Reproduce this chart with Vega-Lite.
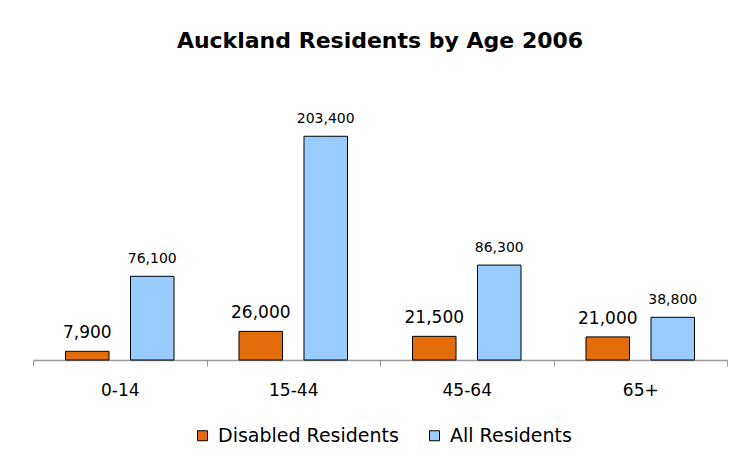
{
  "$schema": "https://vega.github.io/schema/vega-lite/v6.json",
  "width": 694,
  "height": 275,
  "autosize": {"type": "none"},
  "padding": {"left": 33, "top": 85, "right": 13, "bottom": 105},
  "background": "white",
  "title": {
    "text": "Auckland Residents by Age 2006",
    "font": "DejaVu Sans",
    "fontSize": 22,
    "fontWeight": "bold",
    "color": "#000000",
    "anchor": "middle",
    "frame": "group",
    "baseline": "alphabetic",
    "offset": 15
  },
  "data": {
    "values": [
      {"age": "0-14", "series": "Disabled Residents", "value": 7900},
      {"age": "0-14", "series": "All Residents", "value": 76100},
      {"age": "15-44", "series": "Disabled Residents", "value": 26000},
      {"age": "15-44", "series": "All Residents", "value": 203400},
      {"age": "45-64", "series": "Disabled Residents", "value": 21500},
      {"age": "45-64", "series": "All Residents", "value": 86300},
      {"age": "65+", "series": "Disabled Residents", "value": 21000},
      {"age": "65+", "series": "All Residents", "value": 38800}
    ]
  },
  "encoding": {
    "x": {
      "field": "age",
      "type": "nominal",
      "sort": ["0-14", "15-44", "45-64", "65+"],
      "scale": {"paddingInner": 0, "paddingOuter": 0},
      "axis": {
        "title": null,
        "labelAngle": 0,
        "labelFont": "DejaVu Sans",
        "labelFontSize": 17,
        "labelColor": "#000000",
        "labelBaseline": "alphabetic",
        "labelPadding": 29,
        "tickBand": "extent",
        "tickSize": 6,
        "tickColor": "#999999",
        "domainColor": "#999999",
        "domainWidth": 1.5
      }
    },
    "xOffset": {
      "field": "series",
      "type": "nominal",
      "sort": ["Disabled Residents", "All Residents"],
      "scale": {"paddingInner": 0.33, "paddingOuter": 0.5}
    },
    "y": {
      "field": "value",
      "type": "quantitative",
      "scale": {"domain": [0, 250000]},
      "axis": null
    }
  },
  "layer": [
    {
      "mark": {"type": "bar", "stroke": "#000000", "strokeWidth": 1},
      "encoding": {
        "color": {
          "field": "series",
          "type": "nominal",
          "sort": ["Disabled Residents", "All Residents"],
          "scale": {"domain": ["Disabled Residents", "All Residents"], "range": ["#E46C0A", "#99CCFF"]},
          "legend": {
            "title": null,
            "orient": "none",
            "direction": "horizontal",
            "legendX": 160,
            "legendY": 341,
            "symbolType": "square",
            "symbolSize": 100,
            "symbolStrokeColor": "#000000",
            "symbolStrokeWidth": 1,
            "labelFont": "DejaVu Sans",
            "labelFontSize": 19,
            "labelColor": "#000000",
            "labelOffset": 6,
            "columnPadding": 26,
            "labelLimit": 300
          }
        }
      }
    },
    {
      "mark": {"type": "text", "baseline": "alphabetic", "dy": -13, "font": "DejaVu Sans", "color": "#000000"},
      "encoding": {
        "text": {"field": "value", "type": "quantitative", "format": ","},
        "size": {
          "condition": {"test": "datum.series === 'Disabled Residents'", "value": 17},
          "value": 14
        }
      }
    }
  ],
  "config": {"view": {"stroke": null}}
}
